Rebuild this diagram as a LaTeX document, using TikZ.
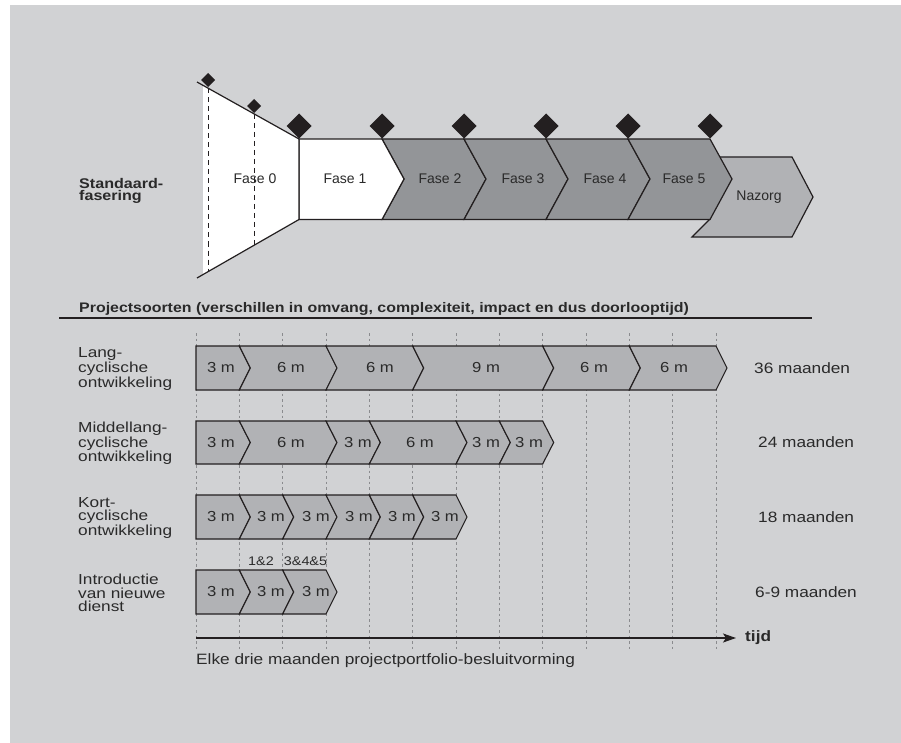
\documentclass[tikz,border=0pt]{standalone}
\usepackage{fontspec}
\setmainfont{Liberation Sans}
\newfontfamily\wfont{Liberation Sans}[FakeStretch=1.15]
\newfontfamily\rfont{Liberation Sans}[FakeStretch=1.19]
\usetikzlibrary{arrows.meta}
\definecolor{bgc}{HTML}{D1D2D4}
\definecolor{barfill}{HTML}{B1B2B5}
\definecolor{darkfill}{HTML}{939598}
\definecolor{ink}{HTML}{231F20}
\definecolor{gridc}{HTML}{8A8B8E}
\definecolor{txt}{HTML}{2A2A2A}
\tikzset{
  barstyle/.style={fill=barfill, draw=ink, line width=1.1pt, line join=miter},
  fasestyle/.style={draw=ink, line width=1.2pt, line join=miter},
  gridline/.style={draw=gridc, line width=0.6pt, dash pattern=on 2.5pt off 3pt},
  blackdash/.style={draw=ink, line width=1pt, dash pattern=on 5pt off 4pt},
  seglab/.style={text=txt, inner sep=0, font=\wfont\fontsize{14.5}{14.5}\selectfont},
  faselab/.style={text=txt, inner sep=0, font=\fontsize{14}{14}\selectfont},
  rowlab/.style={text=txt, inner sep=0, anchor=west, align=left, font=\rfont\fontsize{14.5}{13.4}\selectfont},
  durlab/.style={text=txt, inner sep=0, anchor=west, font=\wfont\fontsize{15}{15}\selectfont},
}
\newcommand\chevseg[5]{%
  \pgfmathsetmacro\cxl{196+43.333*#1}%
  \pgfmathsetmacro\cxr{196+43.333*#2}%
  \pgfmathsetmacro\cym{(#3+#4)/2}%
  \pgfmathsetmacro\cnx{\cxl+11*#5}%
  \filldraw[barstyle] (\cxl,#3) -- (\cxr,#3) -- (\cxr+11,\cym) -- (\cxr,#4) -- (\cxl,#4) -- (\cnx,\cym) -- cycle;}
\newcommand\diam[3]{\fill[ink] (#1,#2-#3) -- (#1+#3,#2) -- (#1,#2+#3) -- (#1-#3,#2) -- cycle;}
\newcommand\fasechev[2]{%
  \filldraw[fasestyle, fill=darkfill] (#1,139) -- (#2,139) -- (#2+22,179) -- (#2,219.5) -- (#1,219.5) -- (#1+22,179) -- cycle;}
\begin{document}
\begin{tikzpicture}[x=1pt,y=-1pt]
\useasboundingbox (0,0) rectangle (901,743);
\fill[white] (0,0) rectangle (901,743);
\fill[bgc] (10,5) rectangle (901,743);

% ---------- Standaardfasering ----------
\filldraw[fasestyle, fill=barfill] (719,157) -- (792,157) -- (813,197) -- (792,237) -- (692,237) -- (710,219) -- (720,190) -- cycle;
\fasechev{382}{464}
\fasechev{464}{546}
\fasechev{546}{628}
\fasechev{628}{710}
\filldraw[fasestyle, fill=white] (299,139) -- (382,139) -- (404,179) -- (382,219.5) -- (299,219.5) -- cycle;
\fill[white] (203,85.4) -- (299,139) -- (299,219.5) -- (203,274.6) -- cycle;
\draw[fasestyle] (197,82) -- (299,139) -- (299,219.5) -- (197,278);
\draw[blackdash] (208,88.5) -- (208,272);
\draw[blackdash] (254,114) -- (254,245.5);
\diam{208}{80}{7}
\diam{254}{106}{7}
\diam{299}{126}{12.5}
\diam{382}{126}{12.5}
\diam{464}{126}{12.5}
\diam{546}{126}{12.5}
\diam{628}{126}{12.5}
\diam{710}{126}{12.5}

\node[faselab] (f0) at (255,179) {Fase 0};
\node[faselab] (f1) at (345,179) {Fase 1};
\node[faselab] (f2) at (440,179) {Fase 2};
\node[faselab] (f3) at (523,179) {Fase 3};
\node[faselab] (f4) at (605,179) {Fase 4};
\node[faselab] (f5) at (684,179) {Fase 5};
\node[faselab] (nz) at (759,197) {Nazorg};
\node[text=txt, inner sep=0, anchor=west, align=left, font=\wfont\bfseries\fontsize{14}{12.5}\selectfont] (std) at (79,191) {Standaard-\\fasering};

% ---------- Projectsoorten ----------
\node[text=txt, inner sep=0, anchor=base west, font=\wfont\bfseries\fontsize{13.85}{14}\selectfont] (hdr) at (79,312) {Projectsoorten (verschillen in omvang, complexiteit, impact en dus doorlooptijd)};
\draw[ink, line width=1.3pt] (59,318) -- (812,318);

\foreach \k in {0,...,12} {\draw[gridline] ({196+43.333*\k},333) -- ({196+43.333*\k},650);}

% row 1
\chevseg{0}{1}{346}{390}{0}
\chevseg{1}{3}{346}{390}{1}
\chevseg{3}{5}{346}{390}{1}
\chevseg{5}{8}{346}{390}{1}
\chevseg{8}{10}{346}{390}{1}
\chevseg{10}{12}{346}{390}{1}
\node[seglab] (r1a) at (221,368) {3 m};
\node[seglab] (r1b) at (291,368) {6 m};
\node[seglab] (r1c) at (380,368) {6 m};
\node[seglab] (r1d) at (486,368) {9 m};
\node[seglab] (r1e) at (594,368) {6 m};
\node[seglab] (r1f) at (674,368) {6 m};
\node[rowlab] (r1n) at (78,369) {Lang-\\cyclische\\ontwikkeling};
\node[durlab] (r1t) at (754,368) {36 maanden};

% row 2
\chevseg{0}{1}{421}{464}{0}
\chevseg{1}{3}{421}{464}{1}
\chevseg{3}{4}{421}{464}{1}
\chevseg{4}{6}{421}{464}{1}
\chevseg{6}{7}{421}{464}{1}
\chevseg{7}{8}{421}{464}{1}
\node[seglab] (r2a) at (221,442.5) {3 m};
\node[seglab] (r2b) at (291,442.5) {6 m};
\node[seglab] (r2c) at (358,442.5) {3 m};
\node[seglab] (r2d) at (420,442.5) {6 m};
\node[seglab] (r2e) at (486,442.5) {3 m};
\node[seglab] (r2f) at (529,442.5) {3 m};
\node[rowlab] (r2n) at (78,443.5) {Middellang-\\cyclische\\ontwikkeling};
\node[durlab] (r2t) at (758,442.5) {24 maanden};

% row 3
\chevseg{0}{1}{495}{539}{0}
\chevseg{1}{2}{495}{539}{1}
\chevseg{2}{3}{495}{539}{1}
\chevseg{3}{4}{495}{539}{1}
\chevseg{4}{5}{495}{539}{1}
\chevseg{5}{6}{495}{539}{1}
\node[seglab] (r3a) at (221,517) {3 m};
\node[seglab] (r3b) at (271,517) {3 m};
\node[seglab] (r3c) at (316,517) {3 m};
\node[seglab] (r3d) at (359,517) {3 m};
\node[seglab] (r3e) at (402,517) {3 m};
\node[seglab] (r3f) at (445,517) {3 m};
\node[rowlab] (r3n) at (78,518) {Kort-\\cyclische\\ontwikkeling};
\node[durlab] (r3t) at (758,517) {18 maanden};

% row 4
\chevseg{0}{1}{570}{614}{0}
\chevseg{1}{2}{570}{614}{1}
\chevseg{2}{3}{570}{614}{1}
\node[seglab] (r4a) at (221,592) {3 m};
\node[seglab] (r4b) at (271,592) {3 m};
\node[seglab] (r4c) at (316,592) {3 m};
\node[text=txt, inner sep=0, font=\wfont\fontsize{12.5}{12.5}\selectfont] (n12) at (261,561) {1\&2};
\node[text=txt, inner sep=0, font=\wfont\fontsize{12.5}{12.5}\selectfont] (n345) at (305.5,561) {3\&4\&5};
\node[rowlab] (r4n) at (78,593) {Introductie\\van nieuwe\\dienst};
\node[durlab] (r4t) at (755,592) {6-9 maanden};

% time axis
\coordinate (axs) at (196,638);
\coordinate (axe) at (736,638);
\draw[ink, line width=1.3pt, -{Stealth[length=13pt, width=9pt, inset=3pt]}] (axs) -- (axe);
\node[text=txt, inner sep=0, anchor=west, font=\wfont\bfseries\fontsize{15}{15}\selectfont] (tijd) at (745,638) {tijd};
\node[text=txt, inner sep=0, anchor=base west, font=\wfont\fontsize{15}{15}\selectfont] (elke) at (196,664) {Elke drie maanden projectportfolio-besluitvorming};
\end{tikzpicture}
\end{document}
